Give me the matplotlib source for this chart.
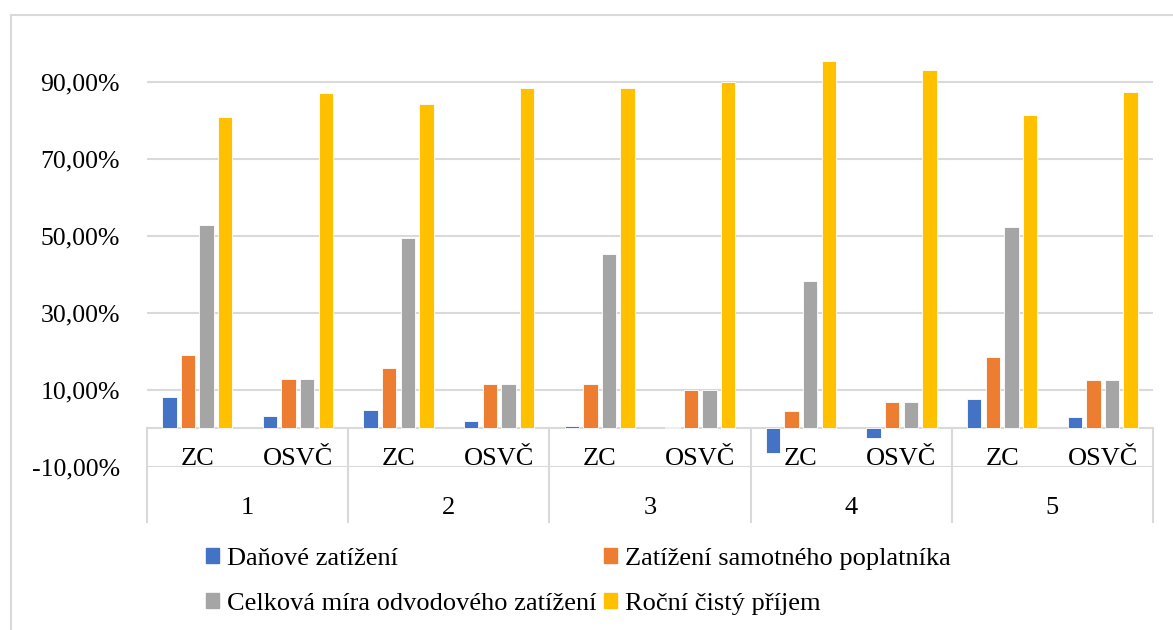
import numpy as np
import matplotlib.pyplot as plt
from matplotlib.patches import Patch, Rectangle

# data (%)
groups = ['1', '2', '3', '4', '5']
subcats = ['ZC', 'OSVČ']
danove = [8.0, 3.1, 4.6, 1.8, 0.5, 0.2, -6.6, -2.7, 7.5, 2.9]
zatizeni = [19.0, 12.7, 15.5, 11.4, 11.5, 9.8, 4.4, 6.8, 18.4, 12.5]
celkova = [52.7, 12.7, 49.3, 11.4, 45.3, 9.8, 38.1, 6.8, 52.2, 12.5]
rocni = [80.8, 87.1, 84.2, 88.4, 88.2, 89.9, 95.4, 92.9, 81.3, 87.2]
series_names = ['Daňové zatížení', 'Zatížení samotného poplatníka',
                'Celková míra odvodového zatížení', 'Roční čistý příjem']
colors = ['#4472C4', '#ED7D31', '#A5A5A5', '#FFC000']
yticks = [-10, 10, 30, 50, 70, 90]

serif = ['Liberation Serif', 'DejaVu Serif']
plt.rcParams['font.family'] = serif

W, H = 1173, 630
fig = plt.figure(figsize=(W / 100, H / 100), dpi=100)
# outer chart border
fig.patches.append(Rectangle((11 / W, -0.1), 1.2, 1 - 14.5 / H + 0.1,
                             transform=fig.transFigure, fill=False,
                             edgecolor='#D9D9D9', linewidth=1.5))

ax = fig.add_axes([147 / W, 1 - 466.5 / H, (1153 - 147) / W, (466.5 - 43) / H])
for s in ax.spines.values():
    s.set_visible(False)

n = len(groups) * len(subcats)
x = np.arange(n)
bw = 0.142
step = 0.185
data = [danove, zatizeni, celkova, rocni]
for i, (vals, c) in enumerate(zip(data, colors)):
    ax.bar(x + (i - 1.5) * step, vals, width=bw, color=c,
           edgecolor='white', linewidth=0.6, zorder=3)

ax.set_xlim(-0.5, n - 0.5)
ax.set_ylim(-10, 100)
ax.set_yticks(yticks)
ax.set_yticklabels(['{:.2f}%'.format(v).replace('.', ',') for v in yticks],
                   fontsize=18.5, family=serif)
ax.tick_params(axis='y', length=0, pad=19.5)
ax.set_xticks([])
ax.grid(axis='y', color='#D9D9D9', linewidth=1.5, zorder=0)
ax.axhline(0, color='#D9D9D9', linewidth=1.5, zorder=2)

# multi-level category labels below the zero line
sep_bottom = -24.4
for k in range(len(groups) + 1):
    ax.plot([k * 2 - 0.5, k * 2 - 0.5], [0, sep_bottom], color='#D9D9D9',
            linewidth=1.5, clip_on=False, zorder=2)
for j in range(n):
    ax.text(j, -8, subcats[j % 2], ha='center', va='center', fontsize=19,
            family=serif, zorder=4)
for g, lab in enumerate(groups):
    ax.text(g * 2 + 0.5, -20.8, lab, ha='center', va='center', fontsize=19,
            family=serif)

handles = [Patch(color=c) for c in colors]
order = [0, 2, 1, 3]
fig.legend([handles[i] for i in order], [series_names[i] for i in order],
           ncol=2, loc='upper left', bbox_to_anchor=(206 / W, 1 - 548 / H),
           frameon=False, prop={'family': serif, 'size': 19},
           handlelength=0.5, handleheight=0.5,
           handletextpad=0.28, columnspacing=0.3, labelspacing=0.88,
           borderpad=0, borderaxespad=0)

fig.savefig('out.png', dpi=100)
